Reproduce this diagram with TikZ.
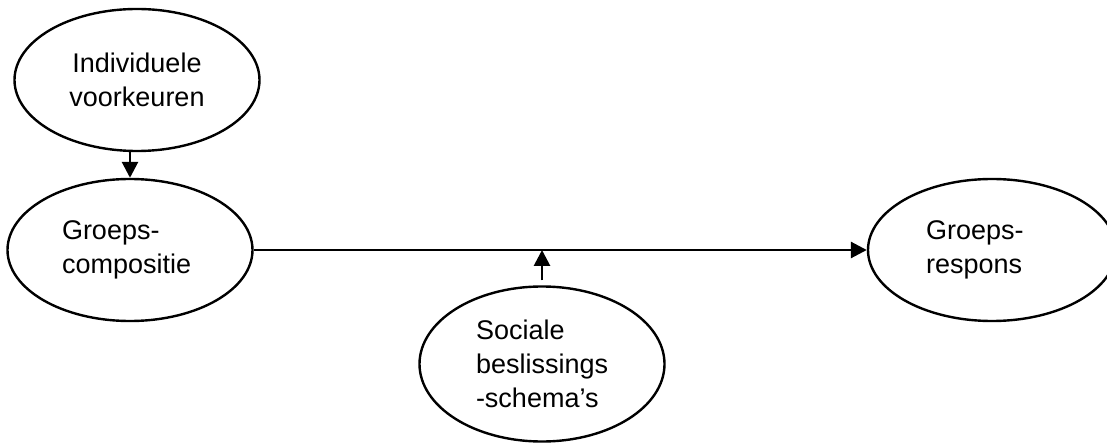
\documentclass[tikz,border=0pt]{standalone}
\usepackage{fontspec}
\setmainfont{Liberation Sans}
\usetikzlibrary{shapes.geometric,arrows.meta}

\begin{document}
\begin{tikzpicture}[x=1pt,y=-1pt,
    blob/.style={ellipse,draw,line width=2.4pt,minimum width=245pt,minimum height=142pt,
        inner sep=0pt,font=\fontsize{27}{34}\selectfont},
    pijl/.style={-{Triangle[length=16pt,width=16pt]},line width=2.8pt}]
    \useasboundingbox (0,0) rectangle (1107,443);
    % Ellipsen
    \node[blob,align=center] (voork) at (137,80) {Individuele\\voorkeuren};
    \node[blob,text width=136pt,align=left] (comp) at (130,250) {Groeps-\\compositie};
    \node[blob,minimum width=248pt,text width=132pt,align=left] (resp) at (992,250) {Groeps-\\respons};
    \node[blob,minimum height=155pt,text width=132pt,align=left] (schema) at (542,364) {Sociale\\beslissings\\-schema’s};
    % Pijlen
    \coordinate (m) at (schema.north |- comp.east);
    \draw[pijl] (comp.north |- voork.south) -- (comp.north);
    \draw[pijl] (comp.east) -- (resp.west);
    \draw[pijl,shorten <=5pt] (schema.north) -- (m);
\end{tikzpicture}
\end{document}
